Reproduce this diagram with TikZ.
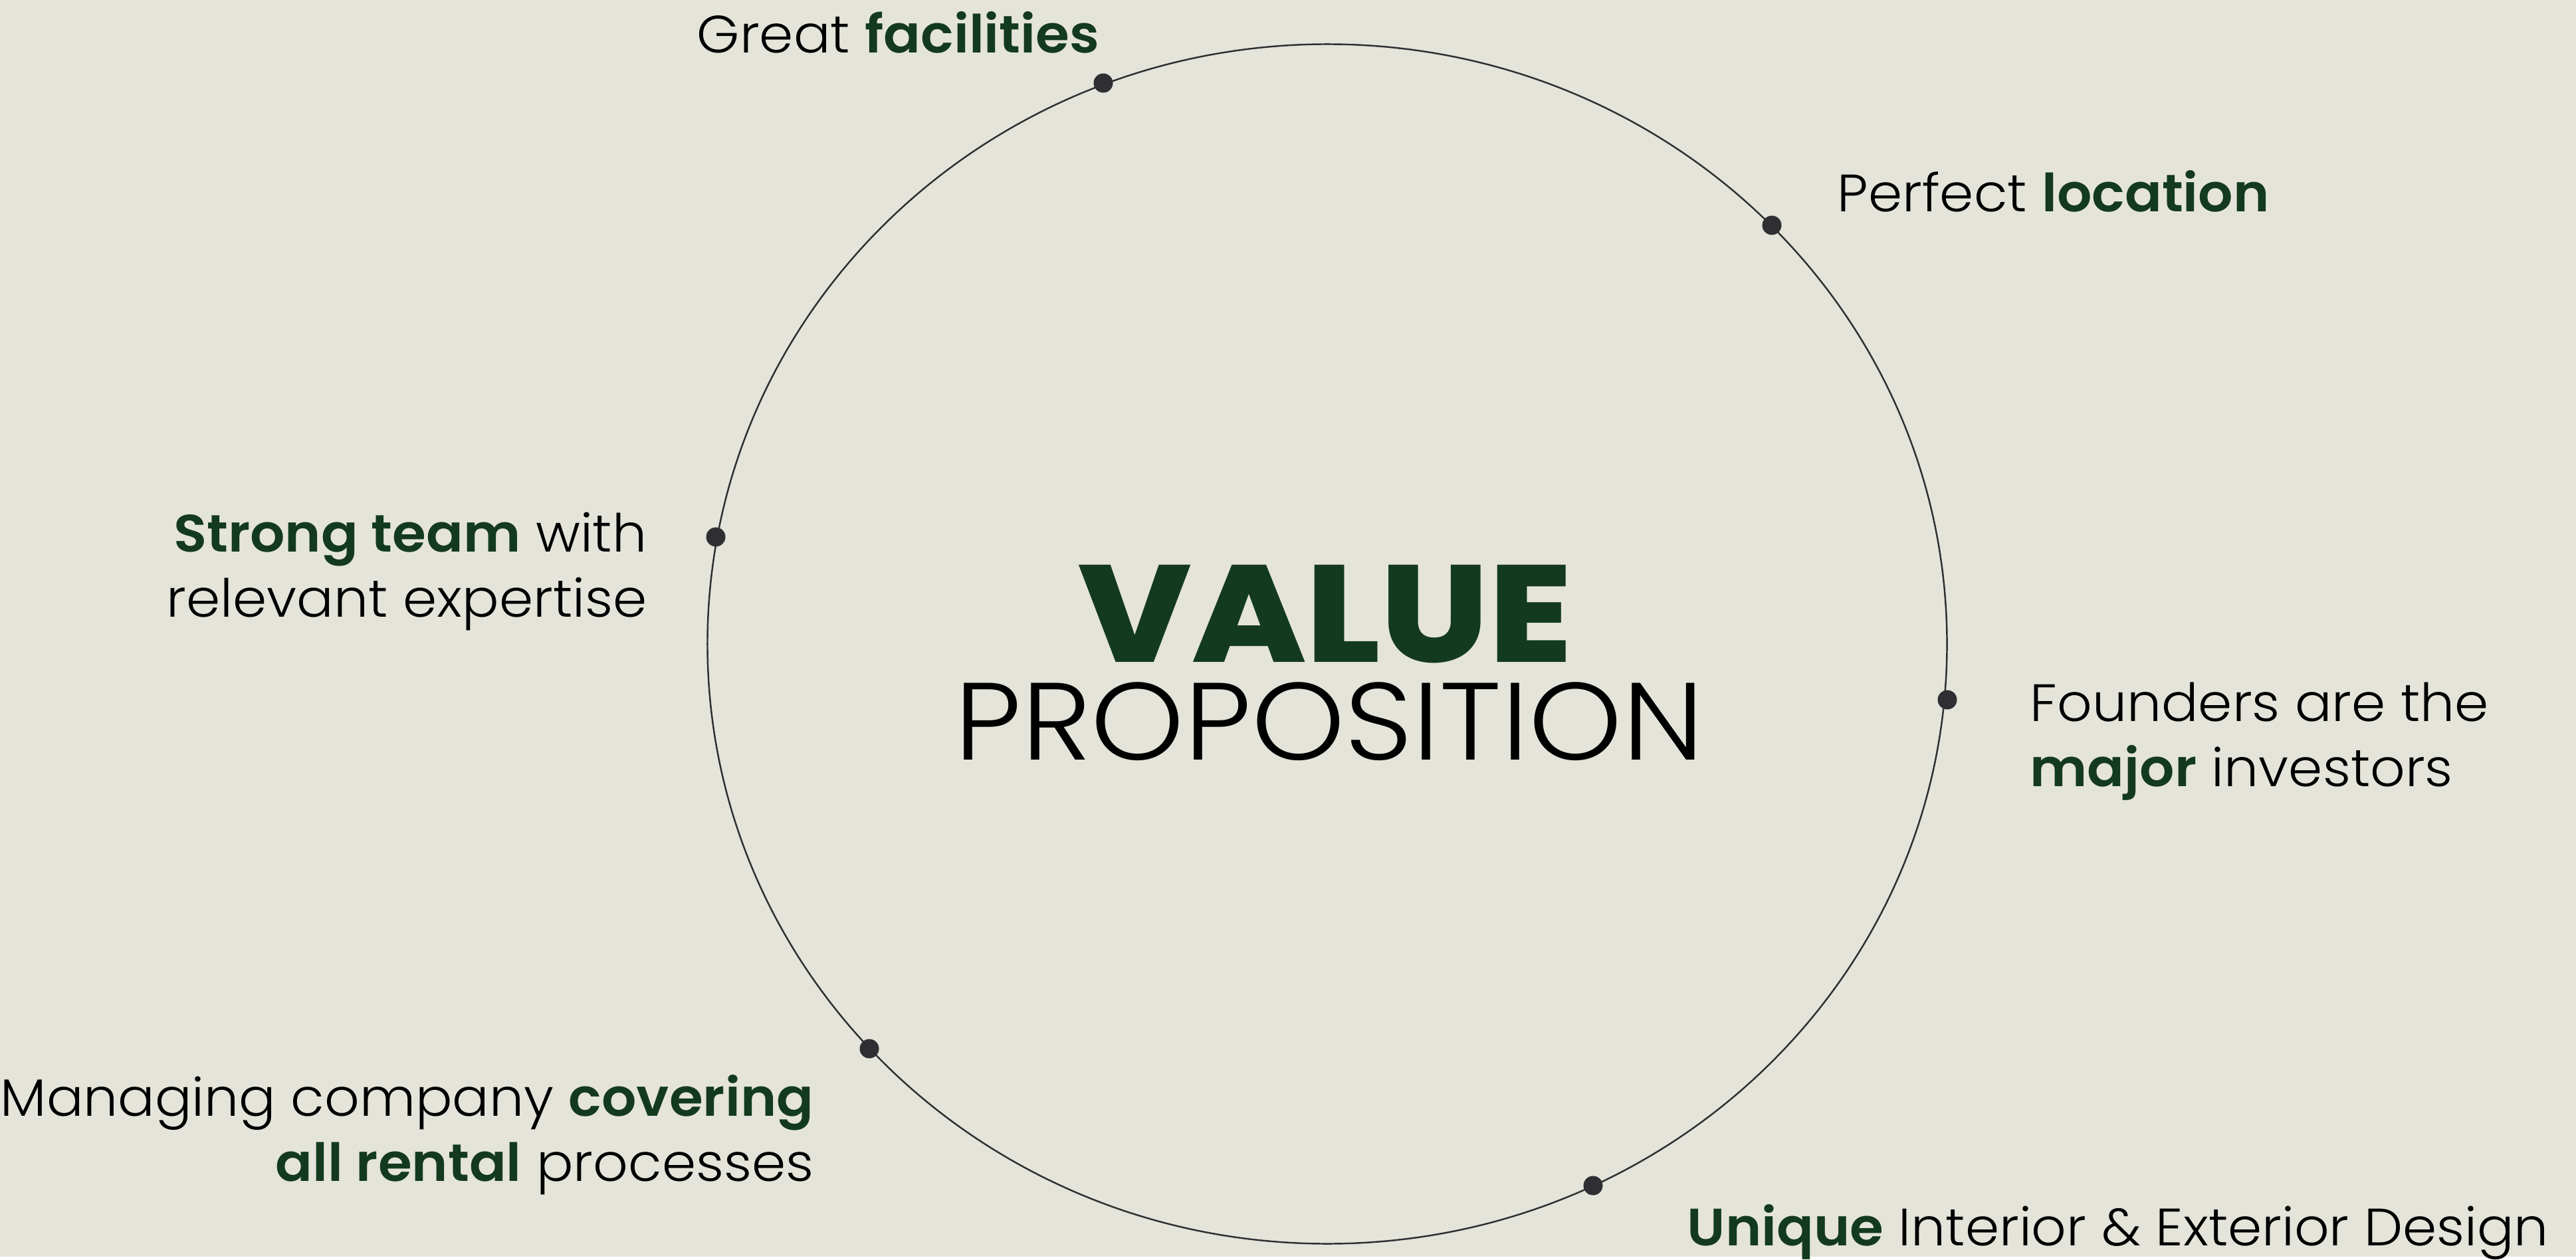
\documentclass[tikz,border=0pt]{standalone}
\usepackage{fontspec}
\setmainfont{Poppins}[UprightFont=* Light,BoldFont=* SemiBold,FakeStretch=1.04]
\newfontfamily\heavyfont{Poppins}[UprightFont=* ExtraBold,FakeStretch=1.1]
\newfontfamily\thinfont{Poppins}[UprightFont=* Light,FakeStretch=1.08]
\definecolor{paper}{HTML}{E5E4DA}
\definecolor{leaf}{HTML}{133A1E}
\definecolor{ink}{HTML}{2F2F33}
\newcommand{\hl}[1]{\textbf{\color{leaf}#1}}
\begin{document}
\begin{tikzpicture}[x=0.01cm,y=-0.01cm,
    pin/.style={circle,fill=ink,inner sep=0pt,minimum size=0.29cm},
    lbl/.style={inner sep=0pt,font=\fontsize{22.5}{27.6}\selectfont}]
  \fill[paper] (0,0) rectangle (3876,1891);
  \draw[ink,line width=0.7pt] (1997,969) ellipse [x radius=9.32cm,y radius=9.02cm];
  % dots on the ring
  \node[pin] (fac) at (1660,125) {};
  \node[pin] (loc) at (2666,339) {};
  \node[pin] (team) at (1077,808) {};
  \node[pin] (inv) at (2930,1053) {};
  \node[pin] (mgmt) at (1308,1578) {};
  \node[pin] (des) at (2397,1784) {};
  % labels (two-line ones sit on their last line)
  \node[lbl,anchor=base west] (facl) at (1048,80) {Great \hl{facilities}};
  \node[lbl,anchor=base west] (locl) at (2764,319) {Perfect \hl{location}};
  \node[lbl,anchor=base east,align=right] (teaml) at (974,928) {\hl{Strong team} with\\relevant expertise};
  \node[lbl,anchor=base west,align=left] (invl) at (3054,1183) {Founders are the\\\hl{major} investors};
  \node[lbl,anchor=base east,align=right] (mgmtl) at (1225,1777) {Managing company \hl{covering}\\\hl{all rental} processes};
  \node[lbl,anchor=base west] (desl) at (2538,1874) {\hl{Unique} Interior \& Exterior Design};
  % title
  \node[inner sep=0pt,anchor=base,font=\fontsize{59}{59}\heavyfont,text=leaf] (val) at (1994,996) {VALUE};
  \node[inner sep=0pt,anchor=base,font=\fontsize{47}{47}\thinfont] (prop) at (2000,1143) {PROPOSITION};
\end{tikzpicture}
\end{document}
